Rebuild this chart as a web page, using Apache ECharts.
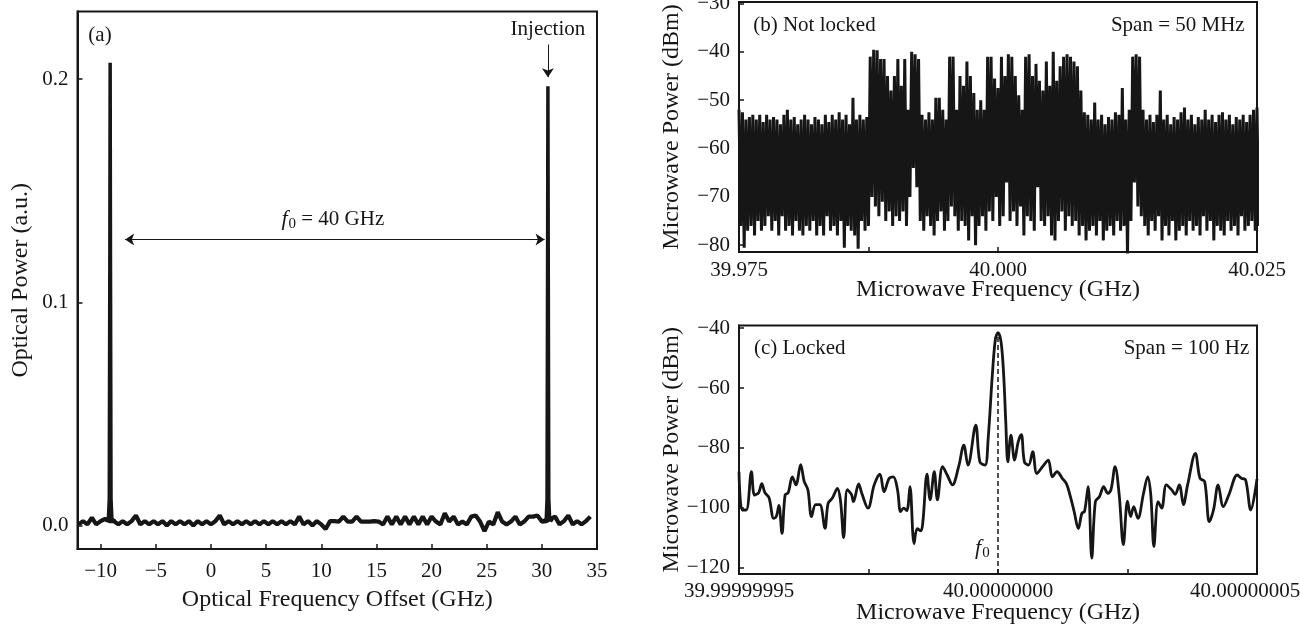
<!DOCTYPE html>
<html>
<head>
<meta charset="utf-8">
<title>Injection locking spectra</title>
<script src="https://cdn.jsdelivr.net/npm/echarts@6.0.0/dist/echarts.min.js"></script>
<style>
html, body { margin: 0; padding: 0; background: #fff; }
#chart { width: 1300px; height: 634px; }
</style>
</head>
<body>
<div id="chart"></div>
<script>
// ---- panel (a): optical spectrum, noise floor sampled every 0.4 GHz from -12 GHz
const aStart = -12.0;
const aStep = 0.4;
const aNoise = [
  0.0005, 0.002, 0.0005, 0.0035, 0.0005, 0.002, 0.003, 0.002, 0.002, 0.0005,
  0.002, 0.0005, 0.002, 0.0045, 0.0005, 0.002, 0.0005, 0.002, 0.0005, 0.002,
  0.0, 0.002, 0.0005, 0.002, 0.0005, 0.002, 0.0, 0.002, 0.0005, 0.002,
  0.0005, 0.002, 0.0045, 0.0005, 0.002, 0.0005, 0.002, 0.0005, 0.002, 0.0005,
  0.002, 0.0005, 0.002, 0.0005, 0.002, 0.0005, 0.002, 0.0005, 0.002, 0.0005,
  0.004, 0.0005, 0.002, 0.0, 0.002, 0.0005, -0.0015, 0.002, 0.002, 0.0018,
  0.004, 0.0018, 0.0018, 0.004, 0.0018, 0.0018, 0.0018, 0.002, 0.0018, 0.0005,
  0.004, 0.0005, 0.004, 0.0005, 0.004, 0.0005, 0.004, 0.0005, 0.004, 0.0005,
  0.004, 0.0018, 0.0005, 0.0055, 0.0018, 0.004, 0.0005, 0.0018, 0.0005, 0.004,
  0.0045, 0.0018, -0.0025, 0.0018, 0.0005, 0.006, 0.0018, 0.0005, 0.0018, 0.004,
  0.0005, 0.0018, 0.004, 0.004, 0.0045, 0.0018, 0.002, 0.003, 0.004, 0.0005,
  0.002, 0.0045, 0.0005, 0.002, 0.0005, 0.002, 0.004
];
// the two comb lines [GHz, a.u.]
const aPeakLeft = [
  [-9.6, 0.002], [-9.3, 0.003], [-9.22, 0.012], [-9.17, 0.12], [-9.14, 0.2073],
  [-9.11, 0.12], [-9.06, 0.012], [-8.98, 0.003], [-8.7, 0.002]
];
const aPeakRight = [
  [30.1, 0.002], [30.4, 0.003], [30.47, 0.012], [30.52, 0.12], [30.55, 0.1968],
  [30.58, 0.12], [30.63, 0.012], [30.71, 0.003], [31.0, 0.002]
];

// ---- panel (b): not locked, sweep from -25 MHz (offset from 40 GHz), 3 points per MHz
const bStart = -25;
const bStep = 1 / 3;
const bHigh = [
  -52, -52.5, -54, -53.5, -53, -54, -53, -54.5, -53, -54,
  -53.5, -54, -55, -53, -52, -54, -53.5, -55, -54, -53,
  -54, -55, -53.5, -54, -55, -53, -54.5, -53, -54, -52.5,
  -54, -53, -55, -49.5, -54, -53, -54, -53.5, -41, -39.6,
  -39.7, -41.5, -41.5, -45, -48, -45, -41.5, -47, -41.5, -52,
  -40, -40.5, -41.5, -53, -54, -52.5, -54, -49.5, -49.5, -52,
  -54, -41, -41, -52, -45, -47, -42, -45, -48.5, -52,
  -50, -52, -41, -41, -45.5, -47.5, -41, -45, -40.5, -41,
  -45, -49, -52, -41, -40.5, -45, -42.5, -46, -48, -42,
  -47, -40, -46, -43, -41, -40.5, -41, -42, -43, -48,
  -52.5, -53, -54, -50.5, -54, -53, -55, -53.5, -54, -52.5,
  -53, -47.5, -54, -52, -41, -40.5, -41, -52, -54, -53,
  -54.5, -53, -48, -54, -53, -55, -53.5, -54, -52.5, -51.5,
  -54, -53, -55, -53.5, -54, -52, -54, -53, -54.5, -53,
  -52.5, -54, -53, -55, -53.5, -54, -53, -54.5, -53, -52, -51.5
];
const bLow = [
  -76, -80.5, -77, -76, -78, -75, -77, -76, -74, -77,
  -75, -78, -74, -77, -76, -78, -75, -77, -78, -76,
  -77, -75, -78, -76, -78, -74, -77, -76, -78, -75,
  -80.5, -76, -77, -78, -80.7, -75, -77, -76, -70, -72,
  -74, -71, -75, -73, -76, -74, -75, -73, -76, -70,
  -64, -68, -75, -77, -74, -76, -78, -75, -73, -77,
  -75, -72, -74, -77, -75, -76, -79, -74, -80, -76,
  -74, -77, -73, -75, -70, -76, -74, -67, -75, -73,
  -76, -72, -78, -74, -75, -77, -68, -75, -76, -74,
  -78, -79, -75, -73, -77, -74, -76, -75, -78, -76,
  -79, -77, -76, -78, -75, -79, -77, -76, -78, -75,
  -77, -76, -82, -75, -67, -72, -74, -76, -78, -75,
  -77, -74, -79, -76, -78, -75, -79, -77, -76, -78,
  -75, -77, -76, -78, -74, -77, -75, -79, -76, -77,
  -78, -75, -77, -76, -78, -74, -77, -76, -75, -77, -76
];

// ---- panel (c): locked, offset from 40 GHz in Hz
const cFreq = [
  -50.0, -49.4, -48.6, -47.6, -47.0, -46.2, -45.6, -45.0, -44.2, -43.3,
  -42.8, -42.3, -41.7, -41.1, -40.5, -39.7, -39.0, -38.1, -37.4, -36.7,
  -36.0, -35.2, -34.4, -33.4, -32.8, -32.0, -31.0, -30.4, -29.8, -29.1,
  -28.3, -27.9, -26.9, -26.3, -25.1, -23.9, -22.8, -22.0, -21.0, -20.2,
  -19.4, -18.8, -18.2, -17.6, -17.0, -16.2, -15.6, -14.9, -14.5, -13.7,
  -13.1, -12.3, -11.7, -10.7, -9.8, -8.8, -7.6, -6.6, -5.8, -4.3,
  -3.5, -2.5, -1.9, -1.1, -0.5, 0, 0.6, 1.1, 1.5, 1.9,
  2.5, 3.2, 3.9, 4.5, 5.1, 5.9, 6.7, 7.5, 8.6, 9.7,
  10.5, 11.4, 12.4, 13.2, 13.9, 14.7, 15.5, 16.2, 16.7, 17.4,
  18.1, 18.8, 19.6, 20.4, 21.2, 21.8, 22.6, 23.4, 24.2, 25.0,
  25.6, 26.2, 27.0, 28.1, 28.9, 29.5, 30.1, 30.9, 31.6, 32.5,
  33.5, 34.2, 35.0, 35.8, 36.6, 38.1, 39.0, 39.9, 40.8, 41.6,
  42.5, 43.5, 44.6, 46.2, 47.0, 47.8, 48.8, 50.0
];
const cPower = [
  -88, -100.8, -100.8, -88, -95.8, -95, -92, -95, -96.7, -103.6,
  -103, -99.3, -108.6, -95.8, -95, -89.7, -92.4, -85.6, -91.3, -94,
  -103, -99, -99, -106.9, -98.6, -96.9, -93.6, -97.8, -110, -94,
  -95.6, -98, -92.1, -95.2, -100.2, -92.4, -88.8, -94.7, -90.2, -89.7,
  -94, -101.3, -100.2, -101, -93, -112, -107, -107.8, -104.7, -88.8,
  -97.4, -88, -97.4, -86.3, -89.1, -92.4, -86.3, -79.1, -85.8, -72.4,
  -84.7, -85.8, -76.9, -55.8, -43.6, -41.5, -44.7, -55.8, -71.3, -84.7,
  -75.8, -84.1, -78, -75.6, -84.7, -85.8, -81.3, -88.6, -86.3, -84.1,
  -89.7, -88, -90.2, -92, -95.8, -101.3, -107, -101.9, -101.3, -93,
  -116.9, -98, -96.3, -93, -95.2, -94.1, -86.3, -95.8, -112.4, -97.8,
  -103, -99.7, -103.6, -95.2, -89.7, -95.8, -113, -98, -100.2, -92.4,
  -94, -95.6, -92.4, -99, -92.4, -81.9, -90.2, -91.3, -104.7, -100.8,
  -92.4, -99.7, -95.6, -89.1, -90.2, -90.7, -100.8, -90.4
];

// tick labels (GHz) for the offset axes
const bTickLabels = { '-25': '39.975', '0': '40.000', '25': '40.025' };
const cTickLabels = { '-50': '39.99999995', '0': '40.00000000', '50': '{last|40.00000005}' };

const FONT = '"Liberation Serif", "DejaVu Serif", serif';
const INK = '#161616';

function minus(v) {
  return String(v).replace('-', '\u2212');
}

// build series data from the arrays
const aData = aNoise.map((p, i) => [aStart + i * aStep, p]);
const bData = [];
bHigh.forEach((h, i) => {
  bData.push([bStart + i * bStep, h]);
  bData.push([bStart + (i + 0.5) * bStep, bLow[i]]);
});
const cData = cFreq.map((f, i) => [f, cPower[i]]);

const txt = { color: INK, fontFamily: FONT, fontSize: 21 };

function note(coord, text, pos, extra) {
  return {
    coord: coord,
    symbol: 'circle',
    symbolSize: 1,
    itemStyle: { color: 'rgba(0,0,0,0)' },
    label: Object.assign({ show: true, position: pos, distance: 0, formatter: text }, txt, extra || {})
  };
}

function gridBox(left, top, width, height) {
  return {
    left: left, top: top, width: width, height: height,
    show: true, borderColor: INK, borderWidth: 2,
    containLabel: false, outerBoundsMode: 'none'
  };
}

function axis(o) {
  return Object.assign({
    type: 'value',
    nameLocation: 'middle',
    nameMoveOverlap: false,
    nameTextStyle: { color: INK, fontFamily: FONT, fontSize: 24 },
    axisLine: { show: true, onZero: false, lineStyle: { color: INK, width: 2 } },
    axisTick: { show: true, inside: true, length: 5, lineStyle: { color: INK, width: 1.5 } },
    splitLine: { show: false }
  }, o);
}

function labels(o) {
  return Object.assign({ color: INK, fontFamily: FONT, fontSize: 21 }, o);
}

const lineBase = {
  type: 'line',
  showSymbol: false,
  symbol: 'none',
  animation: false,
  emphasis: { disabled: true },
  silent: true
};

const chart = echarts.init(document.getElementById('chart'));
chart.setOption({
  animation: false,
  grid: [
    gridBox(77.5, 11.5, 519.5, 537.5),
    gridBox(739, 2, 518, 250),
    gridBox(739, 325.5, 518, 248.5)
  ],
  xAxis: [
    axis({
      gridIndex: 0, min: -12.1, max: 35, splitNumber: 9,
      name: 'Optical Frequency Offset (GHz)', nameGap: 39,
      axisLabel: labels({ margin: 12, showMinLabel: false, showMaxLabel: true, formatter: minus })
    }),
    axis({
      gridIndex: 1, min: -25, max: 25, interval: 12.5,
      name: 'Microwave Frequency (GHz)', nameGap: 26,
      axisLabel: labels({ margin: 8, formatter: v => bTickLabels[String(v)] || '' })
    }),
    axis({
      gridIndex: 2, min: -50, max: 50, interval: 25,
      name: 'Microwave Frequency (GHz)', nameGap: 27,
      axisLabel: labels({
        margin: 7,
        formatter: v => cTickLabels[String(v)] || '',
        // last label pulled in so it stays on the page, as in the original
        rich: { last: { fontFamily: FONT, fontSize: 21, color: INK, padding: [0, 24, 0, 0] } }
      })
    })
  ],
  yAxis: [
    axis({
      gridIndex: 0, min: -0.0105, max: 0.2303, splitNumber: 2,
      name: 'Optical Power (a.u.)', nameGap: 45,
      axisLabel: labels({ margin: 9, showMinLabel: false, showMaxLabel: false, formatter: v => v.toFixed(1) })
    }),
    axis({
      gridIndex: 1, min: -81.4, max: -29.7, splitNumber: 5,
      name: 'Microwave Power (dBm)', nameGap: 55,
      axisLabel: labels({ margin: 9, showMinLabel: false, showMaxLabel: false, formatter: minus })
    }),
    axis({
      gridIndex: 2, min: -122.2, max: -39.1, splitNumber: 5,
      name: 'Microwave Power (dBm)', nameGap: 55,
      axisLabel: labels({ margin: 9, showMinLabel: false, showMaxLabel: false, formatter: minus })
    })
  ],
  series: [
    Object.assign({}, lineBase, {
      name: 'noise floor', xAxisIndex: 0, yAxisIndex: 0, data: aData,
      lineStyle: { color: INK, width: 4.2 },
      markLine: {
        silent: true, animation: false,
        symbol: ['arrow', 'arrow'], symbolSize: 9,
        label: { show: false },
        lineStyle: { color: INK, width: 1, type: 'solid' },
        data: [
          [{ coord: [-7.78, 0.1282] }, { coord: [30.25, 0.1282] }],
          [{ coord: [30.55, 0.2155], symbol: 'none' }, { coord: [30.55, 0.2009], symbol: 'arrow' }]
        ]
      },
      markPoint: {
        silent: true, animation: false,
        data: [
          note([-10.06, 0.2197], '(a)', 'inside'),
          note([30.55, 0.2224], 'Injection', 'inside'),
          note([11.05, 0.1372], '{i|f}{s|0}{n| = 40 GHz}', 'inside', {
            rich: {
              i: { fontFamily: FONT, fontSize: 22, fontStyle: 'italic', color: INK },
              s: { fontFamily: FONT, fontSize: 15, color: INK, padding: [10, 0, 0, 1] },
              n: { fontFamily: FONT, fontSize: 21, color: INK }
            }
          })
        ]
      }
    }),
    Object.assign({}, lineBase, {
      name: 'left line', xAxisIndex: 0, yAxisIndex: 0, data: aPeakLeft,
      lineStyle: { color: INK, width: 3.5 }
    }),
    Object.assign({}, lineBase, {
      name: 'injection line', xAxisIndex: 0, yAxisIndex: 0, data: aPeakRight,
      lineStyle: { color: INK, width: 3.5 }
    }),
    Object.assign({}, lineBase, {
      name: 'not locked', xAxisIndex: 1, yAxisIndex: 1, data: bData,
      lineStyle: { color: INK, width: 3 },
      markPoint: {
        silent: true, animation: false,
        data: [
          note([-23.68, -34.5], '(b) Not locked', 'right'),
          note([23.86, -34.5], 'Span = 50 MHz', 'left')
        ]
      }
    }),
    Object.assign({}, lineBase, {
      name: 'locked', xAxisIndex: 2, yAxisIndex: 2, data: cData,
      smooth: 0.35,
      lineStyle: { color: INK, width: 2.8 },
      markLine: {
        silent: true, animation: false,
        symbol: 'none',
        label: { show: false },
        lineStyle: { color: INK, width: 1.5, type: [5, 3] },
        data: [
          [{ coord: [0, -122.2] }, { coord: [0, -42] }]
        ]
      },
      markPoint: {
        silent: true, animation: false,
        data: [
          note([-47.2, -46.9], '(c) Locked', 'right'),
          note([48.6, -46.9], 'Span = 100 Hz', 'left'),
          note([-1.5, -113.5], '{i|f}{s|0}', 'left', {
            rich: {
              i: { fontFamily: FONT, fontSize: 22, fontStyle: 'italic', color: INK },
              s: { fontFamily: FONT, fontSize: 15, color: INK, padding: [10, 0, 0, 1] }
            }
          })
        ]
      }
    })
  ]
});
</script>
</body>
</html>
